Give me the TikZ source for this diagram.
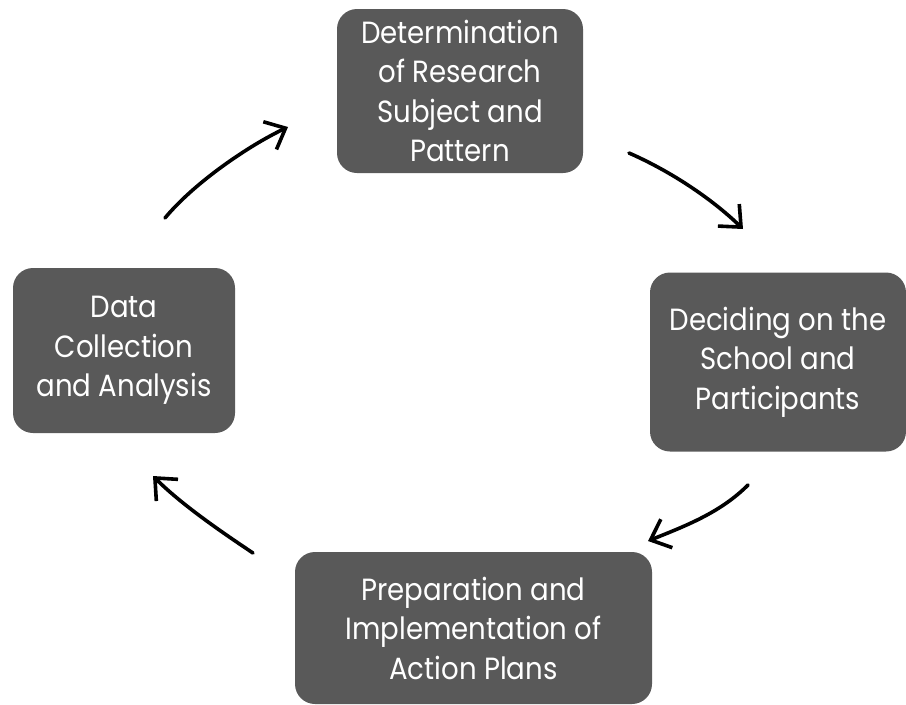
\documentclass[tikz,border=0pt]{standalone}
\usepackage{fontspec}
\setmainfont{Poppins}[FakeStretch=0.9]
\usetikzlibrary{arrows.meta}
\definecolor{boxgray}{HTML}{595959}
\tikzset{
  stagebox/.style={fill=boxgray, draw=none, rounded corners=15pt, text=white, align=center,
    inner sep=0pt, font=\fontsize{23}{29.6}\selectfont},
  cyclearrow/.style={line width=2.7pt, line cap=round, line join=round,
    -{Straight Barb[length=13pt,width=23pt,line width=2.7pt]}}
}
\begin{document}
\begin{tikzpicture}[x=0.75pt,y=-0.75pt]
\useasboundingbox (0,0) rectangle (906,704);
\node[stagebox, minimum width=184.5pt, minimum height=123pt] (top) at (460,91)
  {Determination\\of Research\\Subject and\\Pattern};
\node[stagebox, minimum width=192pt, minimum height=134.25pt] (right) at (778,362)
  {Deciding on the\\School and\\Participants};
\node[stagebox, minimum width=267.75pt, minimum height=114pt] (bottom) at (473.5,628)
  {Preparation and\\Implementation of\\Action Plans};
\node[stagebox, minimum width=166.5pt, minimum height=123.75pt] (left) at (124,350.5)
  {Data\\Collection\\and Analysis};
\coordinate (a1s) at (629,153); \coordinate (a1e) at (743,229);
\coordinate (a2s) at (748,485); \coordinate (a2e) at (648,541);
\coordinate (a3s) at (253,553); \coordinate (a3e) at (153,476);
\coordinate (a4s) at (165,218); \coordinate (a4e) at (288,127);
\draw[cyclearrow] (a1s) .. controls (670,171) and (711,198) .. (a1e);
\draw[cyclearrow] (a2s) .. controls (720,513) and (685,526) .. (a2e);
\draw[cyclearrow] (a3s) .. controls (220,531) and (181,504) .. (a3e);
\draw[cyclearrow] (a4s) .. controls (194,183) and (248,146) .. (a4e);
\end{tikzpicture}
\end{document}
